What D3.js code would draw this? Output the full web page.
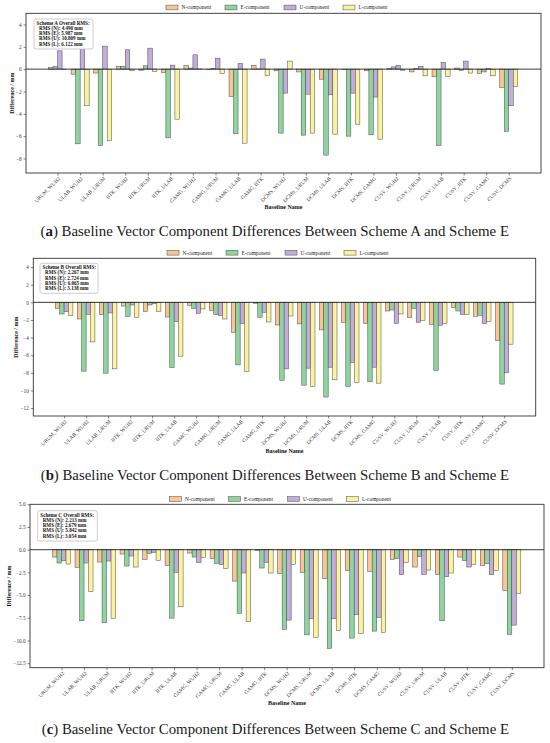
<!DOCTYPE html>
<html>
<head>
<meta charset="utf-8">
<script src="https://cdn.jsdelivr.net/npm/d3@7"></script>
<style>
  html, body { margin: 0; padding: 0; background: #fff; }
  svg { display: block; }
</style>
</head>
<body>
<svg id="chart" width="550" height="743"></svg>
<script>
// ---------------- DATA ----------------
const categories = ["URUM_WUH2","ULAB_WUH2","ULAB_URUM","IITK_WUH2","IITK_URUM","IITK_ULAB",
  "GAMG_WUH2","GAMG_URUM","GAMG_ULAB","GAMG_IITK","DCMS_WUH2","DCMS_URUM","DCMS_ULAB",
  "DCMS_IITK","DCMS_GAMG","CUSV_WUH2","CUSV_URUM","CUSV_ULAB","CUSV_IITK","CUSV_GAMG","CUSV_DCMS"];
const seriesNames = ["N-component","E-component","U-component","L-component"];

// Scheme A vs E
const aN = [0.15,-0.45,-0.35,0.25,-0.10,-0.30,0.35,-0.05,-2.45,0.35,-0.15,-0.25,-0.90,-0.05,-0.15,0.05,-0.25,-0.69,0.10,-0.39,-1.64];
const aE = [0.24,-6.69,-6.84,0.25,0.30,-6.15,0.10,0.05,-5.79,0.02,-5.73,-5.91,-7.70,-6.00,-5.88,0.20,0.05,-6.84,-0.10,-0.25,-5.58];
const aU = [1.64,2.40,2.06,1.73,1.88,0.36,1.28,0.98,0.50,0.90,-2.15,-2.24,-2.30,-2.15,-2.50,0.33,0.25,0.60,0.72,0.05,-3.28];
const aL = [-0.05,-3.28,-6.42,-0.15,-0.20,-4.48,0.02,-0.39,-6.63,-0.60,0.72,-5.73,-5.82,-4.93,-6.27,-0.10,-0.60,-0.66,-0.35,-0.60,-1.55];

// Scheme B vs E
const bN = [-0.68,-1.89,-1.40,-0.42,-1.02,-1.66,-0.34,-0.90,-3.40,-0.10,-2.57,-2.45,-3.13,-2.26,-2.38,-0.98,-1.74,-2.49,-0.60,-1.58,-4.34];
const bE = [-1.32,-7.81,-8.04,-1.58,-0.30,-7.40,-0.68,-1.40,-7.10,-1.70,-8.87,-9.40,-10.75,-9.55,-9.02,-0.87,-0.68,-7.74,-0.98,-1.47,-9.28];
const bU = [-1.06,-1.36,-1.20,-0.30,-0.15,-2.19,-1.25,-1.51,-2.42,-1.13,-7.55,-7.47,-7.36,-6.83,-7.36,-2.38,-2.26,-2.60,-1.36,-2.42,-8.00];
const bL = [-1.47,-4.49,-7.55,-1.70,-1.02,-6.11,-0.75,-1.89,-7.85,-2.23,-1.55,-9.55,-8.79,-9.09,-9.17,-1.32,-2.04,-2.38,-1.36,-2.19,-4.75];

// Scheme C vs E
const cN = [-0.81,-1.95,-1.36,-0.48,-1.07,-1.76,-0.37,-0.99,-3.46,-0.10,-2.60,-2.54,-3.20,-2.32,-2.39,-1.07,-1.91,-2.72,-0.81,-1.73,-4.49];
const cE = [-1.47,-7.83,-8.05,-1.80,-0.40,-7.54,-0.81,-1.50,-7.02,-2.02,-8.79,-9.38,-10.88,-9.74,-8.97,-0.99,-0.77,-7.83,-1.21,-1.54,-9.34];
const cU = [-1.21,-1.47,-1.25,-0.70,-0.29,-2.50,-1.43,-1.65,-2.57,-1.40,-7.76,-7.61,-7.61,-7.17,-7.46,-2.76,-2.72,-2.98,-1.91,-2.76,-8.31];
const cL = [-1.58,-4.60,-7.57,-1.91,-1.18,-6.29,-0.88,-2.06,-7.94,-2.57,-1.62,-9.67,-8.90,-9.26,-9.12,-1.40,-2.24,-2.57,-1.62,-2.32,-4.82];

// Y ticks
const aTicks = [-8,-6,-4,-2,0,2,4];
const bTicks = [-12,-10,-8,-6,-4,-2,0,2,4];
const cTicks = [-12.5,-10,-7.5,-5,-2.5,0,2.5,5];

// RMS texts
const aRms = ["Scheme A Overall RMS:","RMS (N): 4.490 mm","RMS (E): 5.987 mm","RMS (U): 10.809 mm","RMS (L): 6.122 mm"];
const bRms = ["Scheme B Overall RMS:","RMS (N): 2.267 mm","RMS (E): 2.724 mm","RMS (U): 6.065 mm","RMS (L): 3.138 mm"];
const cRms = ["Scheme C Overall RMS:","RMS (N): 2.213 mm","RMS (E): 2.679 mm","RMS (U): 5.842 mm","RMS (L): 3.054 mm"];

const captions = [["a","Scheme A"],["b","Scheme B"],["c","Scheme C"]];

// ---------------- STYLE ----------------
const colors = ["#f9c592","#8ed49e","#c2acdc","#fbf29c"];
const serif = "'Liberation Serif','Times New Roman',serif";

const panels = [
  {series:[aN,aE,aU,aL], ticks:aTicks, fmt:d3.format("d"), rms:aRms, cap:captions[0],
   left:26, right:541, top:13.3, bottom:173, ydom:[-9.3,5.0], legendY:7.5,
   box:{x:34,y:19,w:59,h:30}, ylabelX:12, xlabelY:207, captionY:231, capX:40.5, capW:468.5},
  {series:[bN,bE,bU,bL], ticks:bTicks, fmt:d3.format("d"), rms:bRms, cap:captions[1],
   left:33.3, right:535.7, top:258.3, bottom:416, ydom:[-12.9,5.0], legendY:252.7,
   box:{x:40,y:263.3,w:58,h:30}, ylabelX:16, xlabelY:450.7, captionY:475, capX:40.7, capW:468.3},
  {series:[cN,cE,cU,cL], ticks:cTicks, fmt:d3.format(".1f"), rms:cRms, cap:captions[2],
   left:30, right:544, top:504.3, bottom:667.7, ydom:[-13,5], legendY:499,
   box:{x:37.7,y:510.7,w:59.6,h:30.3}, ylabelX:8.5, xlabelY:702.7, captionY:728.3, capX:41.7, capW:467.3}
];

const svg = d3.select("#chart");

panels.forEach(p => {
  const g = svg.append("g");
  const x = d3.scaleLinear().domain([-1.4, 21.43]).range([p.left, p.right]);
  const y = d3.scaleLinear().domain(p.ydom).range([p.bottom, p.top]);
  const bw = x(0.2) - x(0);
  const offsets = [-0.3,-0.1,0.1,0.3];

  // bars
  p.series.forEach((vals, si) => {
    g.append("g").selectAll("rect").data(vals).join("rect")
      .attr("x", (d,i) => x(i + offsets[si]) - bw/2)
      .attr("width", bw)
      .attr("y", d => y(Math.max(0,d)))
      .attr("height", d => Math.abs(y(d) - y(0)))
      .attr("fill", colors[si])
      .attr("stroke", "#4a4a4a")
      .attr("stroke-width", 0.5);
  });

  // zero line
  g.append("line")
    .attr("x1", p.left).attr("x2", p.right)
    .attr("y1", y(0)).attr("y2", y(0))
    .attr("stroke", "#222").attr("stroke-width", 0.9);

  // y axis
  const yAxis = d3.axisLeft(y).tickValues(p.ticks).tickFormat(p.fmt).tickSize(2.5).tickPadding(2);
  const ya = g.append("g").attr("transform", `translate(${p.left},0)`).attr("color", "#333").call(yAxis);
  ya.select(".domain").remove();
  ya.selectAll("line").attr("stroke", "#333").attr("stroke-width", 0.6);
  ya.selectAll("text").attr("font-family", serif).attr("font-size", 5.2).attr("fill", "#333");

  // x axis
  const xAxis = d3.axisBottom(x).tickValues(d3.range(categories.length))
    .tickFormat(i => categories[i]).tickSize(2.5).tickPadding(1);
  const xa = g.append("g").attr("transform", `translate(0,${p.bottom})`).attr("color", "#333").call(xAxis);
  xa.select(".domain").remove();
  xa.selectAll("line").attr("stroke", "#333").attr("stroke-width", 0.6);
  xa.selectAll("text")
    .attr("font-family", serif).attr("font-size", 5.3).attr("fill", "#333")
    .attr("text-anchor", "end")
    .attr("dy", null)
    .attr("transform", "translate(2.5,6) rotate(-45)")
    .attr("y", 0).attr("x", 0);

  // frame
  g.append("rect")
    .attr("x", p.left).attr("y", p.top)
    .attr("width", p.right - p.left).attr("height", p.bottom - p.top)
    .attr("fill", "none").attr("stroke", "#333").attr("stroke-width", 0.9);

  // RMS box
  g.append("rect")
    .attr("x", p.box.x).attr("y", p.box.y).attr("width", p.box.w).attr("height", p.box.h)
    .attr("rx", 2).attr("fill", "#fff").attr("fill-opacity", 0.92)
    .attr("stroke", "#b8b8b8").attr("stroke-width", 0.7);
  const lineH = (p.box.h - 6) / 4.6;
  p.rms.forEach((t, i) => {
    g.append("text")
      .attr("x", p.box.x + (i === 0 ? 2.6 : 5))
      .attr("y", p.box.y + 5.8 + i * lineH)
      .attr("font-family", serif).attr("font-weight", "bold")
      .attr("font-size", 5.1).attr("fill", "#111")
      .text(t);
  });

  // legend
  const cx = (p.left + p.right) / 2;
  const spacing = 59;
  const legStart = cx - 1.5 * spacing - 29;
  seriesNames.forEach((name, si) => {
    const lx = legStart + si * spacing;
    g.append("rect")
      .attr("x", lx).attr("y", p.legendY - 2.4)
      .attr("width", 12).attr("height", 4.8)
      .attr("fill", colors[si]).attr("stroke", "#4a4a4a").attr("stroke-width", 0.5);
    g.append("text")
      .attr("x", lx + 15.5).attr("y", p.legendY + 1.8)
      .attr("font-family", serif).attr("font-size", 5.4).attr("fill", "#222")
      .text(name);
  });

  // y label
  g.append("text")
    .attr("transform", `translate(${p.ylabelX},${(p.top + p.bottom) / 2}) rotate(-90)`)
    .attr("text-anchor", "middle").attr("dy", "0.35em")
    .attr("font-family", serif).attr("font-weight", "bold")
    .attr("font-size", 6).attr("fill", "#111")
    .text("Difference / mm");

  // x label
  g.append("text")
    .attr("x", cx).attr("y", p.xlabelY).attr("dy", "0.35em")
    .attr("text-anchor", "middle")
    .attr("font-family", serif).attr("font-weight", "bold")
    .attr("font-size", 6).attr("fill", "#111")
    .text("Baseline Name");

  // caption
  const cap = g.append("text")
    .attr("x", p.capX).attr("y", p.captionY).attr("dy", "0.35em")
    .attr("font-family", serif).attr("font-size", 15).attr("fill", "#1a1a1a")
    .attr("textLength", p.capW).attr("lengthAdjust", "spacingAndGlyphs");
  cap.append("tspan").text("(");
  cap.append("tspan").attr("font-weight", "bold").text(p.cap[0]);
  cap.append("tspan").text(`) Baseline Vector Component Differences Between ${p.cap[1]} and Scheme E`);
});
</script>
</body>
</html>
